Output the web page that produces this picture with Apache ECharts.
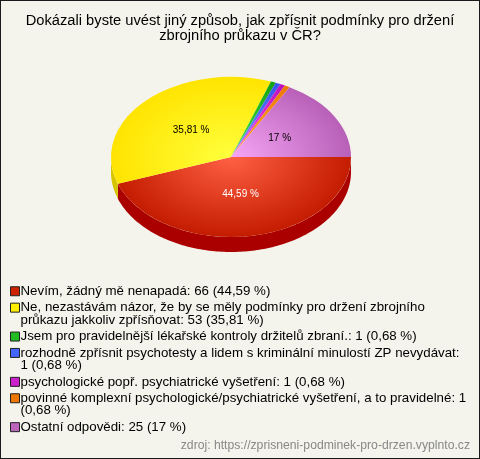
<!DOCTYPE html>
<html><head><meta charset="utf-8">
<script src="https://cdn.jsdelivr.net/npm/echarts@6/dist/echarts.min.js"></script>
<style>
html,body{margin:0;padding:0;background:#f4f4ec;}
#c{width:478px;height:457px;border:1px solid #1a1a1a;background:#f4f4ec;}
</style>
</head><body><div id="c"></div>
<script>
// ---- data ----
const titleText = 'Dokázali byste uvést jiný způsob, jak zpřísnit podmínky pro držení\nzbrojního průkazu v ČR?';
const categories = [
  'Nevím, žádný mě nenapadá',
  'Ne, nezastávám názor, že by se měly podmínky pro držení zbrojního průkazu jakkoliv zpřísňovat',
  'Jsem pro pravidelnější lékařské kontroly držitelů zbraní.',
  'rozhodně zpřísnit psychotesty a lidem s kriminální minulostí ZP nevydávat',
  'psychologické popř. psychiatrické vyšetření',
  'povinné komplexní psychologické/psychiatrické vyšetření, a to pravidelné',
  'Ostatní odpovědi'
];
const counts = [66, 53, 1, 1, 1, 1, 25];
const percents = ['44,59', '35,81', '0,68', '0,68', '0,68', '0,68', '17'];
const sourceText = 'zdroj: https://zprisneni-podminek-pro-drzen.vyplnto.cz';

// ---- styles ----
const FONT = '"Liberation Sans", Arial, sans-serif';
const legendColors = ['#cc2200', '#ffee00', '#22bb22', '#4466ff', '#cc22cc', '#ee7700', '#bb66bb'];
const topColors = [
  ['#ff6044', '#c41c00'], ['#ffff3c', '#ffe400'], ['#44ee44', '#11a011'], ['#7799ff', '#3355ee'],
  ['#ff55ff', '#bb11bb'], ['#ffaa33', '#ee7700'], ['#f6a6f6', '#b860b8']
];
const sideColors = ['#ab0000', '#d6c400', '#0a800a', '#2240c0', '#990099', '#c05800', '#8a408a'];
const labelColors = ['#ffffff', '#000000', '#000000', '#000000', '#000000', '#000000', '#000000'];
const PIE = { cx: 230, cy: 156, rx: 120, ry: 80, depth: 15, labelFrac: 0.47 };
const LEG = { left: 9, firstCenter: 290, lineStep: 12.5, itemStep: 16.4, fontSize: 13.3, textWidth: 448, icon: 9 };

const total = counts.reduce((a, b) => a + b, 0);
let acc = 0;
const starts = counts.map(v => { const s = acc; acc += v; return s; });

function renderSlice(i) {
  return function (params, api) {
    const v = api.value(0), s = api.value(1), tot = api.value(2);
    const a0 = s / tot * 2 * Math.PI, a1 = (s + v) / tot * 2 * Math.PI;
    const { cx, cy, rx, ry, depth } = PIE;
    const children = [];
    const s0 = Math.max(a0, 0), s1 = Math.min(a1, Math.PI);
    if (s1 > s0) {
      const pts = [];
      const n = Math.max(2, Math.ceil((s1 - s0) / 0.02));
      for (let k = 0; k <= n; k++) { const t = s0 + (s1 - s0) * k / n; pts.push([cx + rx * Math.cos(t), cy + ry * Math.sin(t)]); }
      for (let k = n; k >= 0; k--) { const t = s0 + (s1 - s0) * k / n; pts.push([cx + rx * Math.cos(t), cy + ry * Math.sin(t) + depth]); }
      children.push({ type: 'polygon', shape: { points: pts }, style: { fill: sideColors[i] } });
    }
    children.push({
      type: 'sector',
      shape: { cx: cx, cy: cy, r: rx, r0: 0, startAngle: a0, endAngle: a1, clockwise: true },
      scaleY: ry / rx, originX: cx, originY: cy,
      style: {
        fill: { type: 'radial', x: cx, y: cy, r: rx, global: true,
          colorStops: [{ offset: 0, color: topColors[i][0] }, { offset: 1, color: topColors[i][1] }] }
      }
    });
    if (v / tot > 0.05) {
      const m = (a0 + a1) / 2;
      children.push({
        type: 'text',
        x: cx + Math.cos(m) * rx * PIE.labelFrac,
        y: cy + Math.sin(m) * ry * PIE.labelFrac,
        style: { text: percents[i] + ' %', fill: labelColors[i], font: '10px ' + FONT, align: 'center', verticalAlign: 'middle' }
      });
    }
    return { type: 'group', children: children };
  };
}

// wrap legend texts to the legend width
const ctx = document.createElement('canvas').getContext('2d');
ctx.font = LEG.fontSize + 'px ' + FONT;
function wrap(text) {
  const words = text.split(' ');
  const lines = [];
  let cur = '';
  words.forEach(w => {
    const test = cur ? cur + ' ' + w : w;
    if (ctx.measureText(test).width > LEG.textWidth && cur) { lines.push(cur); cur = w; } else { cur = test; }
  });
  lines.push(cur);
  return lines;
}
const legendLines = categories.map((c, i) => wrap(c + ': ' + counts[i] + ' (' + percents[i] + ' %)'));
const legendCenters = [];
let yc = LEG.firstCenter;
legendLines.forEach((ls) => { legendCenters.push(yc); yc += (ls.length - 1) * LEG.lineStep + LEG.itemStep; });

const legends = categories.map((name, i) => {
  const extra = (legendLines[i].length - 1) * LEG.lineStep;
  const h = LEG.icon + extra;
  // square at top of a taller icon box so it lines up with the first text line
  const iconPath = 'path://M0,0L' + LEG.icon + ',0L' + LEG.icon + ',' + LEG.icon + 'L0,' + LEG.icon + 'Z' + (extra > 0 ? 'M0,' + h : '');
  return {
    data: [name],
    orient: 'vertical',
    left: LEG.left,
    top: legendCenters[i] - LEG.lineStep / 2,
    padding: 0,
    itemWidth: LEG.icon, itemHeight: h,
    icon: iconPath,
    selectedMode: false,
    itemStyle: { borderColor: '#222', borderWidth: 1 },
    formatter: () => legendLines[i].join('\n'),
    textStyle: {
      fontSize: LEG.fontSize, fontFamily: FONT, color: '#000',
      lineHeight: LEG.lineStep,
      padding: [0, 0, 0, -4]
    }
  };
});

const chart = echarts.init(document.getElementById('c'), null, { renderer: 'canvas' });
chart.setOption({
  backgroundColor: '#f4f4ec',
  animation: false,
  title: {
    text: titleText, left: 'center', top: 12, padding: 0,
    textStyle: { fontSize: 14.7, fontWeight: 'normal', fontFamily: FONT, color: '#000', lineHeight: 15 }
  },
  legend: legends,
  graphic: [{
    type: 'text', right: 9, top: 439,
    style: { text: sourceText, fill: '#888', font: '12.2px ' + FONT }
  }],
  series: categories.map((name, i) => ({
    type: 'custom', name: name, coordinateSystem: 'none',
    itemStyle: { color: legendColors[i] },
    renderItem: renderSlice(i),
    data: [[counts[i], starts[i], total]]
  }))
});
</script>
</body></html>
